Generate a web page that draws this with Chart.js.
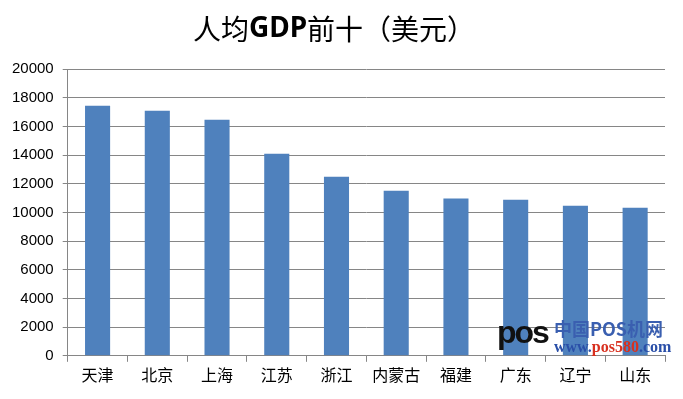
<!DOCTYPE html>
<html>
<head>
<meta charset="utf-8">
<script src="https://cdn.jsdelivr.net/npm/chart.js@4.4.1/dist/chart.umd.min.js"></script>
<style>
  html, body { margin: 0; padding: 0; background: #fff; }
  #wrap { position: relative; width: 683px; height: 399px; }
  #mark { position: absolute; left: 497px; top: 316px; font-family: "Liberation Serif", serif; font-weight: bold; line-height: 1; }
  #mark .logo { position: absolute; left: 0; top: 0; font-family: "Liberation Sans", sans-serif; font-size: 32px; color: #111; letter-spacing: -2px; }
  #mark .cn { position: absolute; left: 57px; top: 3px; font-size: 18px; color: #3a5fb0; white-space: nowrap; font-family: "Noto Sans CJK SC", serif; }
  #mark .url { position: absolute; left: 57px; top: 23px; font-size: 16px; color: #2a4fa8; white-space: nowrap; }
  #mark .url b { color: #d8301f; }
</style>
</head>
<body>
<div id="wrap">
  <canvas id="chart" width="683" height="399"></canvas>
  <div id="mark"><span class="logo">pos</span><span class="cn">中国POS机网</span><span class="url">www.<b>pos580</b>.com</span></div>
</div>
<script>
const provinces = ["天津", "北京", "上海", "江苏", "浙江", "内蒙古", "福建", "广东", "辽宁", "山东"];
const gdpPerCapita = [17440, 17090, 16460, 14090, 12490, 11510, 10970, 10880, 10460, 10320];
const yTicks = [0, 2000, 4000, 6000, 8000, 10000, 12000, 14000, 16000, 18000, 20000];
const titleParts = [
  { text: "人均", bold: false },
  { text: "GDP", bold: true },
  { text: "前十（美元）", bold: false },
];

/* title with bold GDP */
const mixedTitle = {
  id: "mixedTitle",
  afterDraw(chart) {
    const c = chart.ctx;
    const fontOf = (p) =>
      p.bold
        ? "bold 28px 'Noto Sans', sans-serif"
        : "28px 'Noto Sans CJK SC', sans-serif";
    c.save();
    c.fillStyle = "#000";
    c.textBaseline = "middle";
    let total = 0;
    titleParts.forEach((p) => {
      c.font = fontOf(p);
      p.w = c.measureText(p.text).width;
      total += p.w;
    });
    let x = 334 - total / 2;
    titleParts.forEach((p) => {
      c.font = fontOf(p);
      c.fillText(p.text, x, 29);
      x += p.w;
    });
    c.restore();
  },
};

const ctx = document.getElementById("chart");

new Chart(ctx, {
  type: "bar",
  data: {
    labels: provinces,
    datasets: [
      {
        label: "人均GDP",
        data: gdpPerCapita,
        backgroundColor: "#4f81bd",
        categoryPercentage: 1,
        barPercentage: 0.42,
      },
    ],
  },
  plugins: [mixedTitle],
  options: {
    responsive: false,
    animation: false,
    layout: { padding: { top: 69, right: 18, left: 3, bottom: 10 } },
    plugins: {
      legend: { display: false },
      tooltip: { enabled: false },
      title: { display: false },
    },
    scales: {
      x: {
        grid: {
          offset: true,
          drawOnChartArea: false,
          drawTicks: true,
          tickLength: 6,
          color: "#868686",
        },
        border: { color: "#868686", width: 1 },
        ticks: {
          color: "#000",
          padding: 4,
          font: { family: "'Noto Sans CJK SC', sans-serif", size: 16 },
        },
      },
      y: {
        min: 0,
        max: 20000,
        afterBuildTicks: (axis) => {
          axis.ticks = yTicks.map((v) => ({ value: v }));
        },
        grid: { color: "#868686", tickLength: 5 },
        border: { color: "#868686" },
        ticks: {
          color: "#000",
          padding: 9,
          callback: (v) => String(v),
          font: { family: "'Liberation Sans', sans-serif", size: 15 },
        },
      },
    },
  },
});
</script>
</body>
</html>
